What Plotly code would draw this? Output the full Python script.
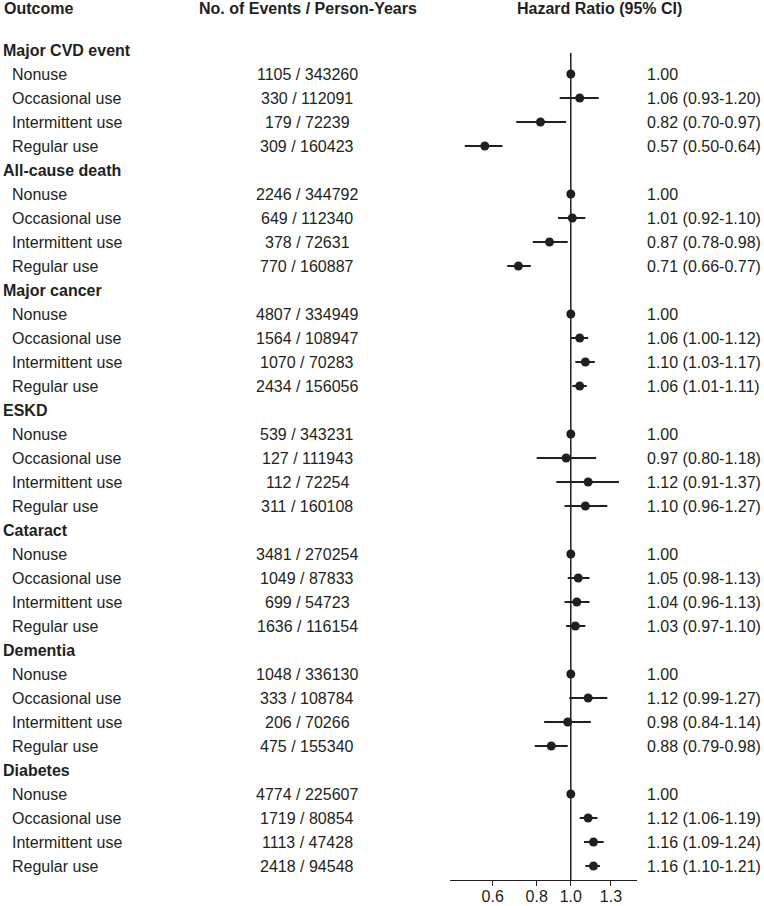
import plotly.graph_objects as go

# ---------------- data ----------------
outcomes = ["Major CVD event", "All-cause death", "Major cancer", "ESKD",
            "Cataract", "Dementia", "Diabetes"]
use_levels = ["Nonuse", "Occasional use", "Intermittent use", "Regular use"]
events = [[1105, 330, 179, 309], [2246, 649, 378, 770], [4807, 1564, 1070, 2434],
          [539, 127, 112, 311], [3481, 1049, 699, 1636], [1048, 333, 206, 475],
          [4774, 1719, 1113, 2418]]
person_years = [[343260, 112091, 72239, 160423], [344792, 112340, 72631, 160887],
                [334949, 108947, 70283, 156056], [343231, 111943, 72254, 160108],
                [270254, 87833, 54723, 116154], [336130, 108784, 70266, 155340],
                [225607, 80854, 47428, 94548]]
hr = [[1.00, 1.06, 0.82, 0.57], [1.00, 1.01, 0.87, 0.71], [1.00, 1.06, 1.10, 1.06],
      [1.00, 0.97, 1.12, 1.10], [1.00, 1.05, 1.04, 1.03], [1.00, 1.12, 0.98, 0.88],
      [1.00, 1.12, 1.16, 1.16]]
ci_lower = [[None, 0.93, 0.70, 0.50], [None, 0.92, 0.78, 0.66], [None, 1.00, 1.03, 1.01],
            [None, 0.80, 0.91, 0.96], [None, 0.98, 0.96, 0.97], [None, 0.99, 0.84, 0.79],
            [None, 1.06, 1.09, 1.10]]
ci_upper = [[None, 1.20, 0.97, 0.64], [None, 1.10, 0.98, 0.77], [None, 1.12, 1.17, 1.11],
            [None, 1.18, 1.37, 1.27], [None, 1.13, 1.13, 1.10], [None, 1.27, 1.14, 0.98],
            [None, 1.19, 1.24, 1.21]]
tick_vals = [0.6, 0.8, 1.0, 1.3]
tick_text = ["0.6", "0.8", "1.0", "1.3"]
headers = ["Outcome", "No. of Events / Person-Years", "Hazard Ratio (95% CI)"]

# ---------------- layout constants ----------------
W, H = 764, 906
PL, PR = 450, 637          # plot area in pixels (x)
MT, MB = 2, 26
ROW0_PX, ROW_H = 50, 24
FONT = "Liberation Sans, Arial, sans-serif"
INK = "#231f20"
FS = 16


def px_to_paper(px):
    return (px - PL) / (PR - PL)


def py_to_y(py):
    return -(py - ROW0_PX) / ROW_H


y_top = py_to_y(MT)
y_bot = py_to_y(H - MB)

# ---------------- build rows ----------------
row = 0
annotations = []
xs, ys, ep, em = [], [], [], []


def ann(text, px, y, anchor="left", bold=False):
    annotations.append(dict(
        text=f"<b>{text}</b>" if bold else text,
        x=px_to_paper(px), xref="paper", y=y, yref="y",
        xanchor=anchor, yanchor="middle", showarrow=False, borderpad=0,
        font=dict(family=FONT, size=FS, color=INK)))


# column headers
ann(headers[0], 3, py_to_y(8), bold=True)
ann(headers[1], 308, py_to_y(8), anchor="center", bold=True)
ann(headers[2], 599, py_to_y(8), anchor="center", bold=True)

for g, name in enumerate(outcomes):
    ann(name, 2, -row, bold=True)
    row += 1
    for k, lvl in enumerate(use_levels):
        y = -row
        ann(lvl, 11, y)
        ann(f"{events[g][k]} / {person_years[g][k]}", 307, y, anchor="center")
        h = hr[g][k]
        lo, hi = ci_lower[g][k], ci_upper[g][k]
        if lo is None:
            ann(f"{h:.2f}", 646, y)
            ep.append(0)
            em.append(0)
        else:
            ann(f"{h:.2f} ({lo:.2f}-{hi:.2f})", 646, y)
            ep.append(hi - h)
            em.append(h - lo)
        xs.append(h)
        ys.append(y)
        row += 1

fig = go.Figure()
# reference line at HR = 1
fig.add_trace(go.Scatter(
    x=[1.0, 1.0], y=[py_to_y(53), y_bot], mode="lines",
    line=dict(color=INK, width=1.5), hoverinfo="skip", showlegend=False))
# estimates with CIs
fig.add_trace(go.Scatter(
    x=xs, y=ys, mode="markers",
    marker=dict(color=INK, size=9, symbol="circle"),
    error_x=dict(type="data", symmetric=False, array=ep, arrayminus=em,
                 color=INK, thickness=2, width=0),
    showlegend=False))

fig.update_layout(
    width=W, height=H,
    margin=dict(l=PL, r=W - PR, t=MT, b=MB, pad=0, autoexpand=False),
    plot_bgcolor="white", paper_bgcolor="white",
    annotations=annotations,
    showlegend=False,
    xaxis=dict(
        type="log", range=[-0.343, 0.188], automargin=False,
        tickvals=tick_vals, ticktext=tick_text,
        ticks="outside", ticklen=5, tickwidth=1.3, tickcolor=INK,
        ticklabelstandoff=-3,
        showline=True, linecolor=INK, linewidth=1.3,
        showgrid=False, zeroline=False,
        tickfont=dict(family=FONT, size=FS, color=INK)),
    yaxis=dict(range=[y_bot, y_top], visible=False, showgrid=False, zeroline=False,
               automargin=False),
)

fig.write_html("out.html",
               config={"displayModeBar": False},
               post_script="document.body.style.margin='0px';"
                           "document.body.style.overflow='hidden';")
